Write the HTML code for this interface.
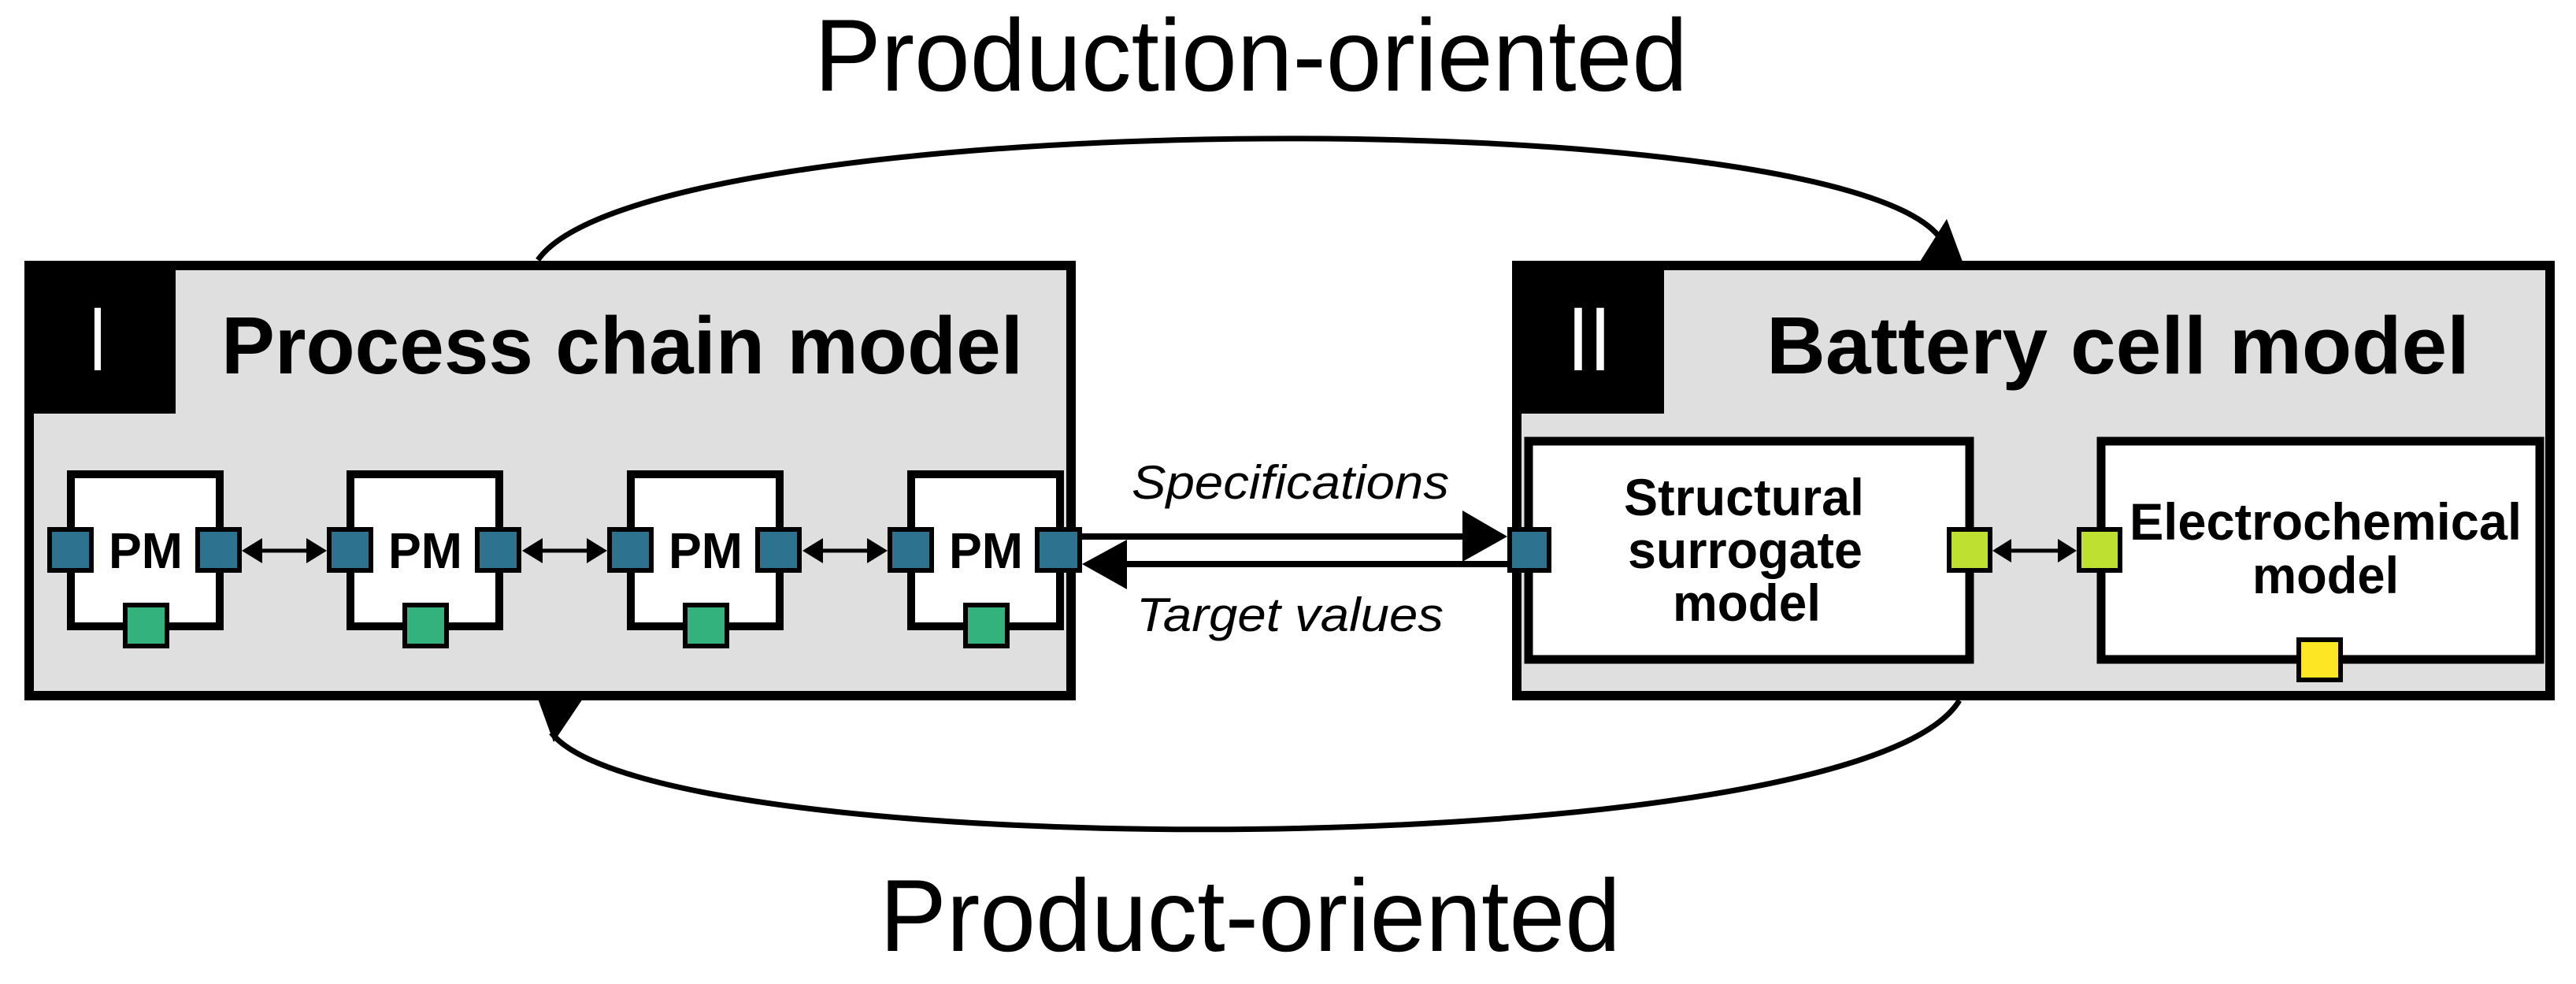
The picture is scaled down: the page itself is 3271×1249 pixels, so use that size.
<!DOCTYPE html>
<html><head><meta charset="utf-8"><style>html,body{margin:0;padding:0;background:#fff}svg{display:block}</style></head><body>
<svg width="3271" height="1249" viewBox="0 0 3271 1249" xmlns="http://www.w3.org/2000/svg" font-family="Liberation Sans, Arial, sans-serif">
<defs>
<g id="pm">
<rect x="5" y="5" width="189" height="193" fill="#fff" stroke="#000" stroke-width="10"/>
<rect x="-22" y="75" width="53" height="52" fill="#2d7390" stroke="#000" stroke-width="6"/>
<rect x="166" y="75" width="53" height="52" fill="#2d7390" stroke="#000" stroke-width="6"/>
<rect x="74" y="171" width="53" height="52" fill="#33b27d" stroke="#000" stroke-width="6"/>
<text x="53" y="124" font-size="64" font-weight="bold" textLength="94" lengthAdjust="spacingAndGlyphs">PM</text>
</g>
<g id="da">
<line x1="20" y1="0" x2="88" y2="0" stroke="#000" stroke-width="5"/>
<polygon points="0,0 26,-16 26,16" fill="#000"/>
<polygon points="108,0 82,-16 82,16" fill="#000"/>
</g>
</defs>
<!-- arcs -->
<path d="M683,330 C820,135 2320,125 2462,300" fill="none" stroke="#000" stroke-width="7"/>
<polygon points="2472,278 2438,332 2492,332" fill="#000"/>
<path d="M2488,889 C2360,1100 830,1100 700,930" fill="none" stroke="#000" stroke-width="7"/>
<polygon points="703,942 683,887 740,887" fill="#000"/>
<text x="1034" y="115" font-size="130" textLength="1109" lengthAdjust="spacingAndGlyphs">Production-oriented</text>
<text x="1117" y="1207" font-size="130" textLength="941" lengthAdjust="spacingAndGlyphs">Product-oriented</text>
<!-- Box I -->
<rect x="37" y="337" width="1323" height="546" fill="#dfdfdf" stroke="#000" stroke-width="12"/>
<rect x="31" y="331" width="192" height="194" fill="#000"/>
<text x="112" y="470" font-size="115" fill="#fff" textLength="24" lengthAdjust="spacingAndGlyphs">I</text>
<text x="281" y="474" font-size="103" font-weight="bold" textLength="1018" lengthAdjust="spacingAndGlyphs">Process chain model</text>
<use href="#pm" x="85" y="597"/>
<use href="#pm" x="440" y="597"/>
<use href="#pm" x="796" y="597"/>
<use href="#pm" x="1152" y="597"/>
<use href="#da" x="307" y="699"/>
<use href="#da" x="663" y="699"/>
<use href="#da" x="1019" y="699"/>
<!-- spec arrows -->
<line x1="1374" y1="681" x2="1862" y2="681" stroke="#000" stroke-width="8"/>
<polygon points="1857,648 1914,681 1857,713" fill="#000"/>
<line x1="1428" y1="716" x2="1914" y2="716" stroke="#000" stroke-width="8"/>
<polygon points="1374,716 1431,685 1431,748" fill="#000"/>
<text x="1437" y="633" font-size="60" font-style="italic" textLength="403" lengthAdjust="spacingAndGlyphs">Specifications</text>
<text x="1443" y="801" font-size="60" font-style="italic" textLength="390" lengthAdjust="spacingAndGlyphs">Target values</text>
<!-- Box II -->
<rect x="1926" y="337" width="1312" height="546" fill="#dfdfdf" stroke="#000" stroke-width="12"/>
<rect x="1920" y="331" width="193" height="194" fill="#000"/>
<text x="1990" y="470" font-size="115" fill="#fff" textLength="56" lengthAdjust="spacingAndGlyphs">II</text>
<text x="2243" y="474" font-size="103" font-weight="bold" textLength="893" lengthAdjust="spacingAndGlyphs">Battery cell model</text>
<rect x="1941" y="560" width="560" height="277" fill="#fff" stroke="#000" stroke-width="11"/>
<rect x="2668" y="560" width="557" height="277" fill="#fff" stroke="#000" stroke-width="11"/>
<rect x="1917" y="672" width="50" height="52" fill="#2d7390" stroke="#000" stroke-width="6"/>
<rect x="1317" y="672" width="54" height="52" fill="#2d7390" stroke="#000" stroke-width="6"/>
<rect x="2475" y="672" width="52" height="52" fill="#bde031" stroke="#000" stroke-width="6"/>
<rect x="2640" y="672" width="52" height="52" fill="#bde031" stroke="#000" stroke-width="6"/>
<rect x="2919" y="812" width="53" height="51" fill="#fde724" stroke="#000" stroke-width="6"/>
<line x1="2548" y1="699" x2="2620" y2="699" stroke="#000" stroke-width="5"/>
<polygon points="2530,699 2554,684 2554,714" fill="#000"/>
<polygon points="2637,699 2613,684 2613,714" fill="#000"/>
<g font-size="66" font-weight="bold">
<text x="2062" y="654" textLength="305" lengthAdjust="spacingAndGlyphs">Structural</text>
<text x="2067" y="721" textLength="298" lengthAdjust="spacingAndGlyphs">surrogate</text>
<text x="2124" y="788" textLength="188" lengthAdjust="spacingAndGlyphs">model</text>
<text x="2704" y="685" textLength="498" lengthAdjust="spacingAndGlyphs">Electrochemical</text>
<text x="2860" y="753" textLength="186" lengthAdjust="spacingAndGlyphs">model</text>
</g>
</svg>
</body></html>
